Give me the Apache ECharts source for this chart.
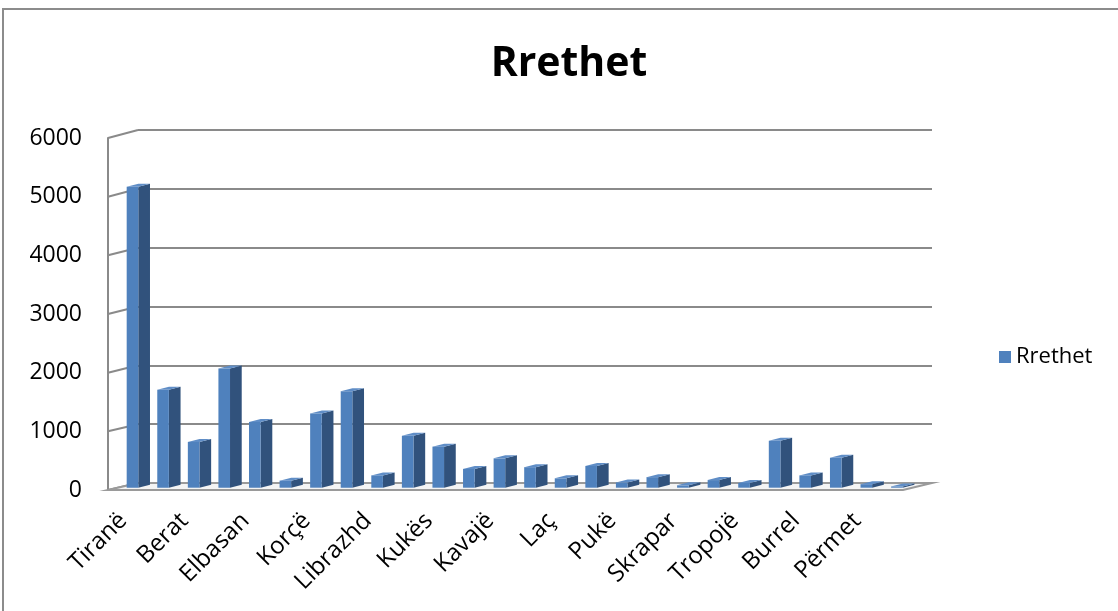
<!DOCTYPE html>
<html><head><meta charset="utf-8">
<script src="https://cdn.jsdelivr.net/npm/echarts@6/dist/echarts.min.js"></script>
<style>html,body{margin:0;padding:0;background:#fff}#c{width:1118px;height:611px}</style>
</head><body><div id="c"></div>
<script>
const categories = ['Tiranë','Durrës','Berat','Fier','Elbasan','Gramsh','Korçë','Shkodër','Librazhd','Lushnjë','Kukës','Pogradec','Kavajë','Lezhë','Laç','Krujë','Pukë','Mirditë','Skrapar','Has','Tropojë','Vlorë','Burrel','Dibër','Përmet','Kolonjë'];
const values = [5130,1670,780,2030,1120,120,1265,1645,210,885,700,320,500,350,160,370,90,180,40,130,80,800,210,510,60,20];
const yTicks = [0,1000,2000,3000,4000,5000,6000];
const seriesName = 'Rrethet';

const FONT = '"Open Sans", "Noto Sans", sans-serif';
const FRONT = '#4F81BD', SIDE = '#31527C', TOP = '#5F8DC6', GRID = '#8a8a8a';

const chart = echarts.init(document.getElementById('c'), null, {renderer:'canvas'});
const option = {
  animation: false,
  backgroundColor: '#fff',
  title: { text: 'Rrethet', left: 564, top: 39, textAlign: 'center',
    textStyle: { fontFamily: FONT, fontWeight: 'bold', fontSize: 41, color: '#000' } },
  legend: { data: [seriesName], left: 994, top: 341, icon: 'rect', itemWidth: 12, itemHeight: 12, itemGap: 8,
    textStyle: { fontFamily: FONT, fontSize: 22, color: '#000' } },
  grid: [
    { left: 108, right: 215, top: 138, bottom: 121 },
    { left: 138, right: 186, top: 130, bottom: 128 }
  ],
  xAxis: [
    { gridIndex: 0, type: 'category', data: categories, axisLine: { show: false }, axisTick: { show: false },
      axisLabel: { interval: 1, rotate: 45, margin: 27, fontFamily: FONT, fontSize: 24, color: '#000' } },
    { gridIndex: 1, type: 'category', data: categories, show: false }
  ],
  yAxis: [
    { gridIndex: 0, type: 'value', min: yTicks[0], max: yTicks[yTicks.length-1], interval: 1000,
      axisLine: { show: true, lineStyle: { color: GRID, width: 2 } }, axisTick: { show: false }, splitLine: { show: false },
      axisLabel: { margin: 26, fontFamily: FONT, fontSize: 23, color: '#000', formatter: v => String(v) } },
    { gridIndex: 1, type: 'value', min: yTicks[0], max: yTicks[yTicks.length-1], interval: 1000,
      axisLine: { show: false }, axisTick: { show: false }, axisLabel: { show: false },
      splitLine: { show: true, lineStyle: { color: GRID, width: 2 } } }
  ],
  series: [{
    name: seriesName, type: 'custom', xAxisIndex: 0, yAxisIndex: 0, z: 5,
    itemStyle: { color: FRONT },
    data: values.map((v, i) => [i, v]),
    renderItem: function (params, api) {
      const i = api.value(0), v = api.value(1);
      const top = api.coord([i, v]), base = api.coord([i, 0]);
      const bw = 11.6, dx = 11.7, dy = 3, off = 3.4, lift = 2.3;
      const x0 = top[0] + off, yt = top[1] - lift, yb = base[1] - lift;
      return { type: 'group', children: [
        { type: 'polygon', shape: { points: [[x0+bw, yt], [x0+bw+dx, yt-dy], [x0+bw+dx, yb-dy], [x0+bw, yb]] }, style: { fill: SIDE } },
        { type: 'rect', shape: { x: x0, y: yt, width: bw, height: yb - yt }, style: { fill: FRONT } },
        { type: 'polygon', shape: { points: [[x0, yt], [x0+bw, yt], [x0+bw+dx, yt-dy], [x0+dx, yt-dy]] }, style: { fill: TOP } }
      ]};
    }
  }]
};
chart.setOption(option);

// frame: left wall diagonals and floor, from the two axes' scales
const g = [];
g.push({ type: 'rect', shape: { x: 3, y: 9, width: 1300, height: 800 }, style: { fill: null, stroke: '#8c8c8c', lineWidth: 2 }, z: 0 });
yTicks.forEach(t => {
  const yf = chart.convertToPixel({ yAxisIndex: 0 }, t);
  const yb = chart.convertToPixel({ yAxisIndex: 1 }, t);
  g.push({ type: 'line', shape: { x1: 108, y1: yf, x2: 138, y2: yb }, style: { stroke: GRID, lineWidth: 2 }, z: 1 });
});
const f0 = chart.convertToPixel({ yAxisIndex: 0 }, 0);
const b0 = chart.convertToPixel({ yAxisIndex: 1 }, 0);
g.push({ type: 'polygon', shape: { points: [[108, f0], [903, f0], [932, b0], [138, b0]] },
  style: { fill: '#f4f4f4', stroke: '#9a9a9a', lineWidth: 2 }, z: 1 });
chart.setOption({ graphic: g });
</script></body></html>
